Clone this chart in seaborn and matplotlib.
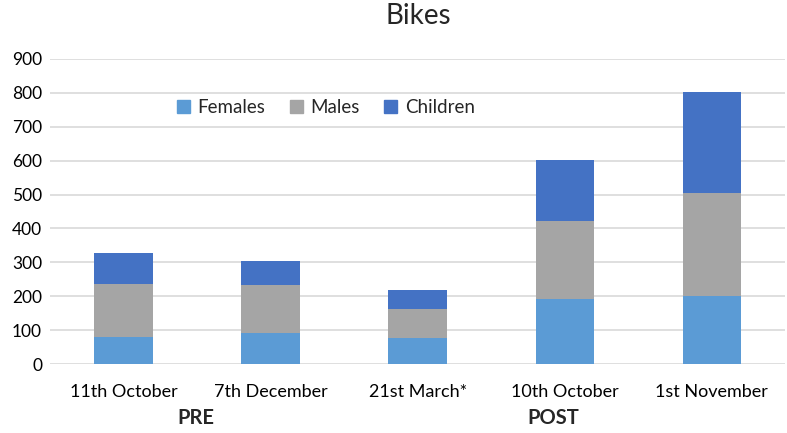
import matplotlib
matplotlib.use('Agg')
from matplotlib import pyplot as plt
from matplotlib.patches import Patch
import seaborn as sns
import pandas as pd

dates = ['11th October', '7th December', '21st March*', '10th October', '1st November']
females = [81, 92, 76, 191, 201]
males = [155, 141, 88, 232, 303]
children = [92, 72, 56, 179, 299]
periods = ['PRE', 'POST']

colors = {'Females': '#5B9BD5', 'Males': '#A5A5A5', 'Children': '#4472C4'}

sns.set_theme(style='white')
plt.rcParams['font.family'] = ['Lato', 'DejaVu Sans']

df = pd.DataFrame({'date': dates, 'Females': females, 'Males': males, 'Children': children})
df['f_top'] = df['Females']
df['m_top'] = df['f_top'] + df['Males']
df['c_top'] = df['m_top'] + df['Children']

fig, ax = plt.subplots(figsize=(7.87, 4.33), dpi=100)
fig.subplots_adjust(left=0.064, right=0.998, bottom=0.159, top=0.864)

# stacked bars: draw cumulative totals, tallest first
for col, name in [('c_top', 'Children'), ('m_top', 'Males'), ('f_top', 'Females')]:
    sns.barplot(data=df, x='date', y=col, color=colors[name], width=0.4,
                saturation=1, linewidth=0, ax=ax, zorder=2)

ax.set_ylim(0, 900)
ax.set_yticks(range(0, 901, 100))
ax.yaxis.grid(True, color='#D9D9D9', linewidth=1.2, zorder=0)
ax.set_axisbelow(True)
for s in ax.spines.values():
    s.set_visible(False)
ax.set_xlabel('')
ax.set_ylabel('')
ax.tick_params(axis='both', length=0, colors='#000000')
ax.tick_params(axis='y', pad=6, labelsize=12.5)
ax.tick_params(axis='x', pad=14, labelsize=13)
ax.set_title('Bikes', fontsize=20, pad=25)

handles = [Patch(color=colors[n], label=n) for n in ['Females', 'Males', 'Children']]
ax.legend(handles=handles, loc='center', bbox_to_anchor=(0.375, 0.84), ncol=3,
          frameon=False, fontsize=13.5, handlelength=0.7, handleheight=0.7,
          handletextpad=0.4, columnspacing=1.3)

fig.text(196 / 787, 1 - 418 / 433, periods[0], ha='center', va='center',
         fontsize=14.5, fontweight='bold')
fig.text(553 / 787, 1 - 418 / 433, periods[1], ha='center', va='center',
         fontsize=14.5, fontweight='bold')

fig.savefig('out.png', dpi=100)
